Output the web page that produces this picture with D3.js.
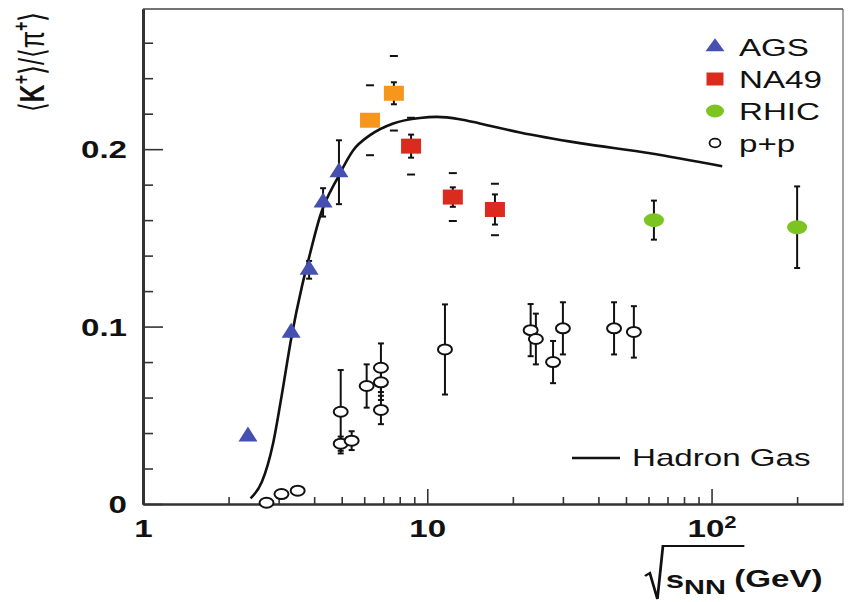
<!DOCTYPE html>
<html><head><meta charset="utf-8">
<script src="https://cdn.jsdelivr.net/npm/d3@7"></script>
<style>
html,body{margin:0;padding:0;background:#fff;}
svg{display:block;font-family:"Liberation Sans",Arial,Helvetica,sans-serif;}
</style></head><body>
<svg id="c" width="848" height="602"></svg>
<script>
// ---- data ----
const agsX = [2.34, 3.32, 3.84, 4.30, 4.89];
const agsY = [0.038, 0.0965, 0.132, 0.170, 0.187];
const agsErr = [0, 0.002, 0.005, 0.008, 0.018];

const na49PrelimX = [6.29, 7.63];
const na49PrelimY = [0.2163, 0.2315];
const na49PrelimStat = [0.003, 0.0062];
const na49PrelimSys = [0.0197, 0.021];

const na49X = [8.77, 12.3, 17.3];
const na49Y = [0.2017, 0.173, 0.166];
const na49Stat = [0.0065, 0.0055, 0.0085];
const na49Sys = [0.016, 0.0135, 0.0145];

const rhicX = [62.7, 200];
const rhicY = [0.160, 0.156];
const rhicErr = [0.011, 0.023];

const ppX = [2.72, 3.07, 3.50, 4.96, 4.96, 5.42, 6.12, 6.87, 6.87, 6.87, 11.54, 23.1, 24.1, 27.7, 30.0, 45.4, 53.3];
const ppY = [0.0007, 0.0056, 0.0075, 0.052, 0.034, 0.0357, 0.0665, 0.0768, 0.0686, 0.053, 0.0871, 0.098, 0.093, 0.080, 0.099, 0.099, 0.097];
const ppErr = [0, 0, 0, 0.0235, 0.004, 0.0053, 0.0122, 0.0137, 0.010, 0.008, 0.0254, 0.0147, 0.0143, 0.0119, 0.0147, 0.0147, 0.0145];

const hgX = [2.39, 2.62, 2.87, 3.07, 3.33, 3.62, 3.87, 4.19, 4.86, 5.49, 6.29, 7.59, 9.42, 10.8, 13.0, 15.3, 21.2, 34.4, 60.7, 109];
const hgY = [0.0032, 0.0125, 0.0344, 0.0605, 0.0943, 0.1224, 0.1412, 0.1619, 0.1844, 0.1994, 0.2079, 0.2145, 0.2176, 0.2182, 0.2169, 0.2145, 0.2094, 0.2034, 0.1977, 0.1904];

const xMajor = [1, 10, 100];
const xMajorLabels = ["1", "10", "10"];
const xMinor = [2,3,4,5,6,7,8,9,20,30,40,50,60,70,80,90,200];
const yMajor = [0, 0.1, 0.2];
const yMajorLabels = ["0", "0.1", "0.2"];
const yMinor = [0.02,0.04,0.06,0.08,0.12,0.14,0.16,0.18,0.22,0.24,0.26];

const legendItems = ["AGS", "NA49", "RHIC", "p+p"];

// ---- drawing ----
const svg = d3.select("#c");
const L = 143, R = 843, T = 9, B = 504;
const SX = 1.38; // horizontal stretch of the reference lettering
const x = d3.scaleLog().domain([1, 290]).range([L, R]);
const y = d3.scaleLinear().domain([0, 0.279]).range([B, T]);

const C = {blue:"#4650b0", red:"#db2b1f", orange:"#f6961c", green:"#7cc520"};

// custom stretched triangle
const triType = (w,h)=>({draw(ctx){ ctx.moveTo(0,-h*2/3); ctx.lineTo(w/2,h/3); ctx.lineTo(-w/2,h/3); ctx.closePath(); }});

// frame top/right
svg.append("line").attr("x1",L).attr("x2",R).attr("y1",T).attr("y2",T).attr("stroke","#444").attr("stroke-width",1.5);
svg.append("line").attr("x1",R).attr("x2",R).attr("y1",T).attr("y2",B).attr("stroke","#666").attr("stroke-width",1.2);

// x axis
const gxMin = svg.append("g").attr("transform",`translate(0,${B})`)
  .call(d3.axisBottom(x).tickValues(xMinor).tickSizeInner(-7).tickSizeOuter(0).tickFormat(""));
const gx = svg.append("g").attr("transform",`translate(0,${B})`)
  .call(d3.axisBottom(x).tickValues(xMajor).tickSizeInner(-15).tickSizeOuter(0).tickPadding(16)
    .tickFormat((d,i)=>xMajorLabels[i]));
gx.selectAll("text").attr("font-size",24).attr("font-weight","bold").attr("fill","#111")
  .attr("font-family","Liberation Sans, Arial, sans-serif").attr("transform",`scale(${SX},1)`);
gx.selectAll(".tick").filter(d=>d===100).select("text")
  .append("tspan").attr("dy","-0.55em").attr("font-size",16).text("2");
[gxMin, gx].forEach(g=>{
  g.selectAll(".tick line").attr("stroke","#333").attr("stroke-width",1.6);
  g.select(".domain").attr("stroke","#333").attr("stroke-width",2);
});

// y axis
const gyMin = svg.append("g").attr("transform",`translate(${L},0)`)
  .call(d3.axisLeft(y).tickValues(yMinor).tickSizeInner(-10).tickSizeOuter(0).tickFormat(""));
const gy = svg.append("g").attr("transform",`translate(${L},0)`)
  .call(d3.axisLeft(y).tickValues(yMajor).tickSizeInner(-20).tickSizeOuter(0).tickPadding(16)
    .tickFormat((d,i)=>yMajorLabels[i]));
gy.selectAll("text").attr("font-size",24).attr("font-weight","bold").attr("fill","#111")
  .attr("font-family","Liberation Sans, Arial, sans-serif").attr("dy","0.36em")
  .attr("x", -16/SX).attr("transform",`scale(${SX},1)`);
[gyMin, gy].forEach(g=>{
  g.selectAll(".tick line").attr("stroke","#333").attr("stroke-width",1.6);
  g.select(".domain").attr("stroke","#333").attr("stroke-width",3);
});

// hadron gas curve
const line = d3.line().x(d=>x(d[0])).y(d=>y(d[1])).curve(d3.curveMonotoneX);
svg.append("path").datum(hgX.map((v,i)=>[v,hgY[i]])).attr("d",line)
  .attr("fill","none").attr("stroke","#111").attr("stroke-width",2.6);

// error bar helper
function errBar(cx, lo, hi, cap, sw){
  const g = svg.append("g").attr("stroke","#111").attr("stroke-width",sw||2);
  g.append("line").attr("x1",cx).attr("x2",cx).attr("y1",y(lo)).attr("y2",y(hi));
  g.append("line").attr("x1",cx-cap).attr("x2",cx+cap).attr("y1",y(lo)).attr("y2",y(lo));
  g.append("line").attr("x1",cx-cap).attr("x2",cx+cap).attr("y1",y(hi)).attr("y2",y(hi));
}
function dash(cx, v){
  svg.append("line").attr("x1",cx-4).attr("x2",cx+4).attr("y1",y(v)).attr("y2",y(v))
    .attr("stroke","#111").attr("stroke-width",2);
}

// p+p
ppX.forEach((v,i)=>{ if(ppErr[i]>0) errBar(x(v), ppY[i]-ppErr[i], ppY[i]+ppErr[i], 3, 2); });
svg.selectAll(".pp").data(ppX).enter().append("ellipse")
  .attr("cx",d=>x(d)).attr("cy",(d,i)=>y(ppY[i])).attr("rx",7).attr("ry",5)
  .attr("fill","#fff").attr("stroke","#111").attr("stroke-width",2);

// AGS
agsX.forEach((v,i)=>{ if(agsErr[i]>0) errBar(x(v), agsY[i]-agsErr[i], agsY[i]+agsErr[i], 3, 2); });
svg.selectAll(".ags").data(agsX).enter().append("path")
  .attr("d", d3.symbol(triType(19,15))())
  .attr("transform",(d,i)=>`translate(${x(d)},${y(agsY[i])})`)
  .attr("fill",C.blue);

// NA49
function na49(xs, ys, st, sy, col){
  xs.forEach((v,i)=>{
    const cx = x(v);
    dash(cx, ys[i]+sy[i]); dash(cx, ys[i]-sy[i]);
    errBar(cx, ys[i]-st[i], ys[i]+st[i], 3, 2);
  });
  svg.selectAll(null).data(xs).enter().append("rect")
    .attr("x",d=>x(d)-10).attr("y",(d,i)=>y(ys[i])-7.5).attr("width",20).attr("height",15)
    .attr("fill",col);
}
na49(na49PrelimX, na49PrelimY, na49PrelimStat, na49PrelimSys, C.orange);
na49(na49X, na49Y, na49Stat, na49Sys, C.red);

// RHIC
rhicX.forEach((v,i)=>errBar(x(v), rhicY[i]-rhicErr[i], rhicY[i]+rhicErr[i], 3, 2));
svg.selectAll(".rh").data(rhicX).enter().append("ellipse")
  .attr("cx",d=>x(d)).attr("cy",(d,i)=>y(rhicY[i])).attr("rx",10).attr("ry",7)
  .attr("fill",C.green);

// legend
const lg = svg.append("g");
const lx = 715, ly0 = 47, ldy = 32;
lg.append("path").attr("d",d3.symbol(triType(19,13))()).attr("transform",`translate(${lx},${ly0})`).attr("fill",C.blue);
lg.append("rect").attr("x",lx-8.5).attr("y",ly0+ldy-6.5).attr("width",17).attr("height",13).attr("fill",C.red);
lg.append("ellipse").attr("cx",lx).attr("cy",ly0+2*ldy).attr("rx",9).attr("ry",6.5).attr("fill",C.green);
lg.append("ellipse").attr("cx",lx).attr("cy",ly0+3*ldy).attr("rx",5.5).attr("ry",4.3).attr("fill","#fff").attr("stroke","#111").attr("stroke-width",1.8);
legendItems.forEach((t,i)=>{
  lg.append("text").attr("transform",`translate(739,${ly0+i*ldy+8.5}) scale(${SX},1)`)
    .attr("font-size",24).attr("fill","#111").text(t);
});
// hadron gas legend
svg.append("line").attr("x1",572).attr("x2",620).attr("y1",458).attr("y2",458).attr("stroke","#111").attr("stroke-width",2.4);
svg.append("text").attr("transform",`translate(632,466) scale(${SX},1)`)
  .attr("font-size",24).attr("fill","#111").text("Hadron Gas");

// y title
const yt = svg.append("text").attr("transform",`translate(44,62) rotate(-90) scale(1,${SX})`).attr("text-anchor","middle")
  .attr("font-size",25).attr("fill","#111");
yt.append("tspan").attr("font-weight","normal").text("\u27E8");
yt.append("tspan").attr("font-weight","bold").text("K");
yt.append("tspan").attr("font-weight","bold").attr("font-size",16).attr("dy","-0.7em").text("+");
yt.append("tspan").attr("dy","0.45em").text("\u27E9/\u27E8\u03C0");
yt.append("tspan").attr("font-weight","bold").attr("font-size",16).attr("dy","-0.7em").text("+");
yt.append("tspan").attr("dy","0.45em").text("\u27E9");

// x title
const xg = svg.append("g").attr("transform",`translate(645,0) scale(${SX},1)`);
xg.append("path").attr("d","M0,576 L3.5,573 L9,599 L13,546 L72,546")
  .attr("fill","none").attr("stroke","#111").attr("stroke-width",2);
const xt = xg.append("text").attr("x",15).attr("y",588).attr("font-size",24).attr("font-weight","bold").attr("fill","#111");
xt.append("tspan").text("s");
xt.append("tspan").attr("font-size",21).attr("dy","0.3em").text("NN");
xt.append("tspan").attr("dy","-0.3em").attr("dx","6").text("(GeV)");
</script>
</body></html>
